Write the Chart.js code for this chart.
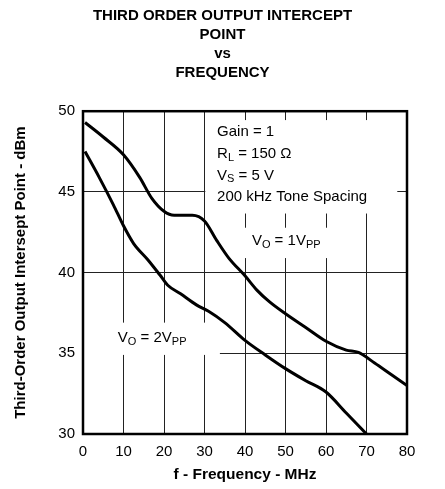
<!DOCTYPE html>
<html>
<head>
<meta charset="utf-8">
<script src="https://cdn.jsdelivr.net/npm/chart.js@4"></script>
<style>
  html, body { margin: 0; padding: 0; background: #fff; }
  #wrap { width: 445px; height: 489px; }
</style>
</head>
<body>
<div id="wrap"><canvas id="grafico"></canvas></div>
<script>
// dados
const freq1V = [0.5, 5, 10, 14, 17, 20, 22.5, 27, 30, 33, 36, 40, 43, 46, 50, 55, 60, 65, 68, 72, 76, 80]
const oip1V = [49.3, 48.4, 47.3, 45.9, 44.6, 43.8, 43.55, 43.55, 43.2, 42.0, 40.9, 39.8, 38.9, 38.2, 37.45, 36.6, 35.75, 35.2, 35.05, 34.4, 33.7, 33.0]

const freq2V = [0.5, 4, 7.5, 10, 12.5, 16, 19, 21, 24, 28, 31, 35, 40, 45, 50, 55, 60, 65, 70]
const oip2V = [47.5, 45.9, 44.2, 42.9, 41.8, 40.8, 39.85, 39.2, 38.7, 38.0, 37.6, 36.9, 35.8, 34.9, 34.05, 33.3, 32.6, 31.3, 30.0]

const xTicks = [0, 10, 20, 30, 40, 50, 60, 70, 80]
const yTicks = [30, 35, 40, 45, 50]

const condicoes = [
    [["Gain = 1", ""]],
    [["R", ""], ["L", "sub"], [" = 150 Ω", ""]],
    [["V", ""], ["S", "sub"], [" = 5 V", ""]],
    [["200 kHz Tone Spacing", ""]]
]
const rotulo1V = [["V", ""], ["O", "sub"], [" = 1V", ""], ["PP", "sub"]]
const rotulo2V = [["V", ""], ["O", "sub"], [" = 2V", ""], ["PP", "sub"]]

const fonte = "'Liberation Sans', Arial, sans-serif"

function pares(xs, ys) {
    return xs.map((x, i) => ({ x: x, y: ys[i] }))
}

// escreve texto com subscritos
function escrever(ctx, partes, x, y) {
    let px = x
    partes.forEach(([txt, tipo]) => {
        if (tipo === "sub") {
            ctx.font = "11px " + fonte
            ctx.fillText(txt, px, y + 4)
        } else {
            ctx.font = "15px " + fonte
            ctx.fillText(txt, px, y)
        }
        px += ctx.measureText(txt).width
    })
}

// caixas brancas com as anotacoes (em unidades dos eixos)
const anotacoes = {
    id: "anotacoes",
    beforeDatasetsDraw(chart) {
        const ctx = chart.ctx
        const xs = chart.scales.x
        const ys = chart.scales.y
        const caixa = (x0, x1, y0, y1) => {
            const a = xs.getPixelForValue(x0), b = xs.getPixelForValue(x1)
            const c = ys.getPixelForValue(y0), d = ys.getPixelForValue(y1)
            ctx.fillRect(a, c, b - a, d - c)
        }
        ctx.save()
        ctx.fillStyle = "#fff"
        caixa(30.2, 77.6, 49.45, 43.66)
        caixa(39.2, 62.3, 42.78, 40.9)
        caixa(0.2, 33.8, 36.9, 34.9)

        ctx.fillStyle = "#000"
        ctx.textBaseline = "middle"
        ctx.textAlign = "left"
        const x0 = xs.getPixelForValue(33.1)
        const y0 = ys.getPixelForValue(48.7)
        condicoes.forEach((linha, i) => escrever(ctx, linha, x0, y0 + i * 21.6))
        escrever(ctx, rotulo1V, xs.getPixelForValue(41.7), ys.getPixelForValue(41.95))
        escrever(ctx, rotulo2V, xs.getPixelForValue(8.6), ys.getPixelForValue(35.95))
        ctx.restore()
    },
    afterDatasetsDraw(chart) {
        const ctx = chart.ctx
        const a = chart.chartArea
        ctx.save()
        ctx.strokeStyle = "#000"
        ctx.lineWidth = 2.5
        ctx.strokeRect(a.left, a.top, a.right - a.left, a.bottom - a.top)
        ctx.restore()
    }
}

let resGraf = document.getElementById("grafico").getContext("2d")

new Chart(resGraf, {
    type: "line",
    data: {
        datasets: [{
            label: "VO = 1VPP",
            data: pares(freq1V, oip1V),
            borderColor: "#000",
            borderWidth: 3,
            pointRadius: 0,
            cubicInterpolationMode: "monotone"
        }, {
            label: "VO = 2VPP",
            data: pares(freq2V, oip2V),
            borderColor: "#000",
            borderWidth: 3,
            pointRadius: 0,
            cubicInterpolationMode: "monotone"
        }]
    },
    options: {
        responsive: true,
        maintainAspectRatio: false,
        animation: false,
        layout: { padding: 0 },
        plugins: {
            legend: { display: false },
            tooltip: { enabled: false },
            title: {
                display: true,
                text: ["THIRD ORDER OUTPUT INTERCEPT", "POINT", "vs", "FREQUENCY"],
                color: "#000",
                font: { family: fonte, size: 15, weight: "bold", lineHeight: 1.27 },
                padding: { top: 6, bottom: 29 }
            }
        },
        scales: {
            x: {
                type: "linear",
                min: 0,
                max: 80,
                afterBuildTicks: s => { s.ticks = xTicks.map(v => ({ value: v })) },
                afterFit: s => { s.height = 55 },
                grid: { color: "#222", lineWidth: 1, drawTicks: false },
                border: { display: false },
                ticks: { color: "#000", padding: 9, font: { family: fonte, size: 15 } },
                title: {
                    display: true,
                    text: "f - Frequency - MHz",
                    color: "#000",
                    font: { family: fonte, size: 15.5, weight: "bold" },
                    padding: { top: 0, bottom: 5 }
                }
            },
            y: {
                min: 30,
                max: 50,
                afterBuildTicks: s => { s.ticks = yTicks.map(v => ({ value: v })) },
                afterFit: s => { s.width = 83 },
                grid: { color: "#222", lineWidth: 1, drawTicks: false },
                border: { display: false },
                ticks: { color: "#000", padding: 8, font: { family: fonte, size: 15 } },
                title: {
                    display: true,
                    text: "Third-Order Output Intersept Point - dBm",
                    color: "#000",
                    font: { family: fonte, size: 15, weight: "bold" },
                    padding: { top: 12, bottom: 0 }
                }
            },
            // margem da direita, sem marcas
            margem: {
                position: "right",
                afterFit: s => { s.width = 38 },
                grid: { display: false },
                border: { display: false },
                ticks: { display: false }
            }
        }
    },
    plugins: [anotacoes]
})
</script>
</body>
</html>
